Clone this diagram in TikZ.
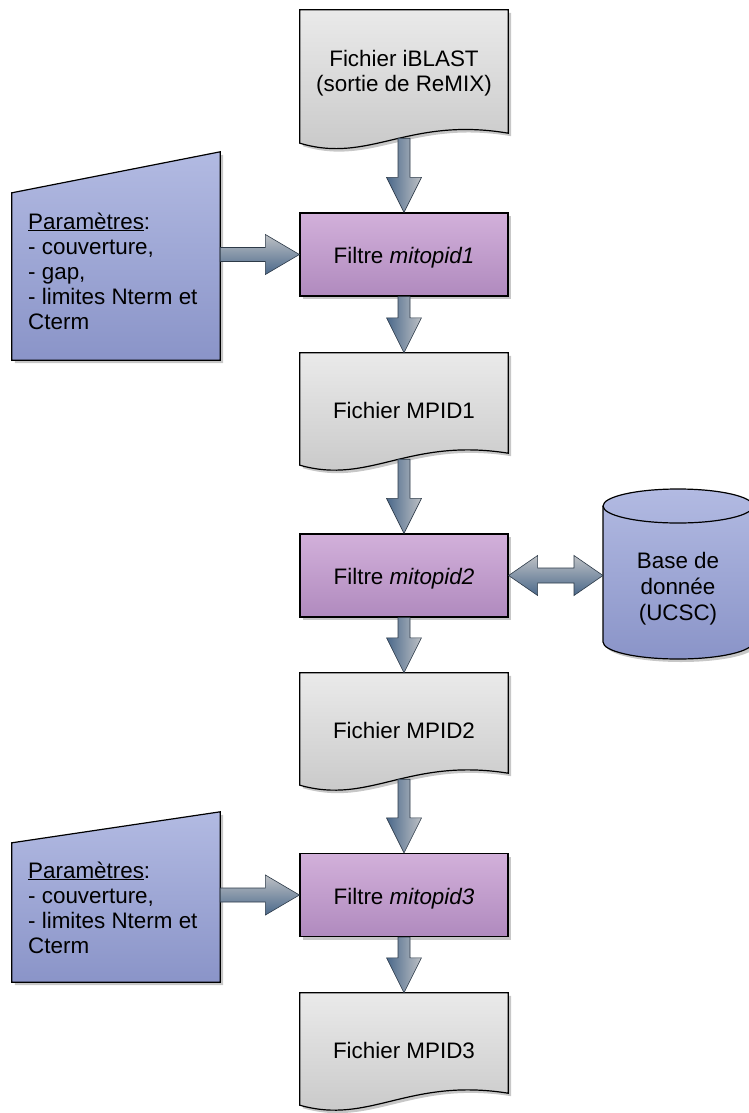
\documentclass[tikz,border=0pt]{standalone}
\usepackage{fontspec}
\setmainfont{Liberation Sans}
\usetikzlibrary{calc,shadows}
\pgfdeclarelayer{background}
\pgfdeclarelayer{canvasbg}
\pgfsetlayers{canvasbg,background,main}
\definecolor{docT}{RGB}{234,234,234}
\definecolor{docB}{RGB}{198,198,198}
\definecolor{filT}{RGB}{210,176,218}
\definecolor{filB}{RGB}{176,138,190}
\definecolor{parT}{RGB}{178,186,226}
\definecolor{parB}{RGB}{138,148,200}
\definecolor{arDark}{RGB}{74,104,138}
\definecolor{arLight}{RGB}{190,193,197}
\definecolor{arLine}{RGB}{45,58,72}
\newcommand\vflow[2]{\path[varrow] let \p1=(#1), \p2=(#2) in
  (\x2-6pt,\y1) -- (\x2+6pt,\y1) -- (\x2+6pt,\y2+35pt) -- (\x2+17.5pt,\y2+35pt)
  -- (\x2,\y2) -- (\x2-17.5pt,\y2+35pt) -- (\x2-6pt,\y2+35pt) -- cycle;}
\newcommand\hflow[2]{\path[harrow] let \p1=(#1), \p2=(#2) in
  (\x1,\y2+7pt) -- (\x2-34pt,\y2+7pt) -- (\x2-34pt,\y2+20pt) -- (\x2,\y2)
  -- (\x2-34pt,\y2-20pt) -- (\x2-34pt,\y2-7pt) -- (\x1,\y2-7pt) -- cycle;}
\newcommand\dflow[2]{\path[harrow] let \p1=(#1), \p2=(#2) in
  (\x1,\y1) -- (\x1+29pt,\y1+20pt) -- (\x1+29pt,\y1+7.5pt) -- (\x2-29pt,\y1+7.5pt)
  -- (\x2-29pt,\y1+20pt) -- (\x2,\y1) -- (\x2-29pt,\y1-20pt) -- (\x2-29pt,\y1-7.5pt)
  -- (\x1+29pt,\y1-7.5pt) -- (\x1+29pt,\y1-20pt) -- cycle;}
\newcommand\docpath[2]{\path[docshape] (#1.north west) -- (#1.north east)
  -- ($(#1.south east)+(0,-#2)$) .. controls ($(#1.south east)+(-100,-22)$) and ($(#1.south west)+(70,26)$)
  .. ($(#1.south west)+(0,#2)$) -- cycle;}
\begin{document}
\begin{tikzpicture}[x=1pt,y=-1pt,
  every node/.style={font=\fontsize{22.4}{25}\selectfont, inner sep=0pt},
  shadowed/.style={drop shadow={shadow xshift=3pt,shadow yshift=-3pt,opacity=0.22,fill=black}},
  docbox/.style={minimum width=208pt},
  doctext/.style={text height=24pt, text depth=0pt},
  filterbox/.style={draw=black, line width=1.2pt, top color=filT, bottom color=filB,
    minimum width=208pt, minimum height=83pt, text height=18pt, text depth=0pt, shadowed},
  docshape/.style={draw=black, line width=1.2pt, top color=docT, bottom color=docB, shadowed},
  parshape/.style={draw=black, line width=1.2pt, top color=parT, bottom color=parB, shadowed},
  partext/.style={align=left},
  varrow/.style={left color=arDark, right color=arLight, draw=arLine, line width=0.6pt},
  harrow/.style={top color=arLight, bottom color=arDark, draw=arLine, line width=0.6pt}
]
\begin{pgfonlayer}{canvasbg}
\fill[white] (0,0) rectangle (748,1113);
\end{pgfonlayer}
\useasboundingbox (0,0) rectangle (748,1113);

% documents
\node[docbox, minimum height=128pt, align=center] (d1) at (404,74) {\raisebox{-5pt}{\begin{tabular}{@{}c@{}}Fichier iBLAST\\(sortie de ReMIX)\end{tabular}}};
\node[docbox, doctext, minimum height=106pt] (d2) at (404,406) {Fichier MPID1};
\node[docbox, doctext, minimum height=106pt] (d3) at (404,726) {Fichier MPID2};
\node[docbox, doctext, minimum height=106pt] (d4) at (404,1046) {Fichier MPID3};
\begin{pgfonlayer}{background}
\docpath{d1}{5}
\docpath{d2}{6}
\docpath{d3}{6}
\docpath{d4}{6}
\end{pgfonlayer}

% filters
\node[filterbox] (f1) at (404,254.5) {Filtre \textit{mitopid1}};
\node[filterbox] (f2) at (404,575.5) {Filtre \textit{mitopid2}};
\node[filterbox] (f3) at (404,895) {Filtre \textit{mitopid3}};

% parameters
\node[minimum width=208pt, minimum height=208pt] (p1) at (116,256) {};
\node[minimum width=208pt, minimum height=170pt] (p2) at (116,897) {};
\begin{pgfonlayer}{background}
\path[parshape] (p1.south west) -- ($(p1.north west)+(0,41)$) -- (p1.north east) -- (p1.south east) -- cycle;
\path[parshape] (p2.south west) -- ($(p2.north west)+(0,31)$) -- (p2.north east) -- (p2.south east) -- cycle;
\end{pgfonlayer}
\node[partext, anchor=base west] (p1t) at (28,329) {\underline{Paramètres}:\\- couverture,\\- gap,\\- limites Nterm et\\Cterm};
\node[partext, anchor=base west] (p2t) at (28,953) {\underline{Paramètres}:\\- couverture,\\- limites Nterm et\\Cterm};

% database
\node[align=center, font=\fontsize{22.4}{26}\selectfont] (db) at (678,589) {Base de\\donnée\\(UCSC)};
\coordinate (dbw) at (603,576);
\begin{pgfonlayer}{background}
\path[parshape] (603,506) -- (603,642) arc[start angle=180, end angle=360, x radius=75pt, y radius=17pt]
  -- (753,506) arc[start angle=0, end angle=180, x radius=75pt, y radius=17pt] -- cycle;
\draw[line width=1.2pt] (603,506) arc[start angle=180, end angle=360, x radius=75pt, y radius=17pt];
\end{pgfonlayer}

% connectors
\vflow{d1.south}{f1.north}
\vflow{f1.south}{d2.north}
\vflow{d2.south}{f2.north}
\vflow{f2.south}{d3.north}
\vflow{d3.south}{f3.north}
\vflow{f3.south}{d4.north}
\hflow{p1.east}{f1.west}
\hflow{p2.east}{f3.west}
\dflow{f2.east}{dbw}
\end{tikzpicture}
\end{document}
